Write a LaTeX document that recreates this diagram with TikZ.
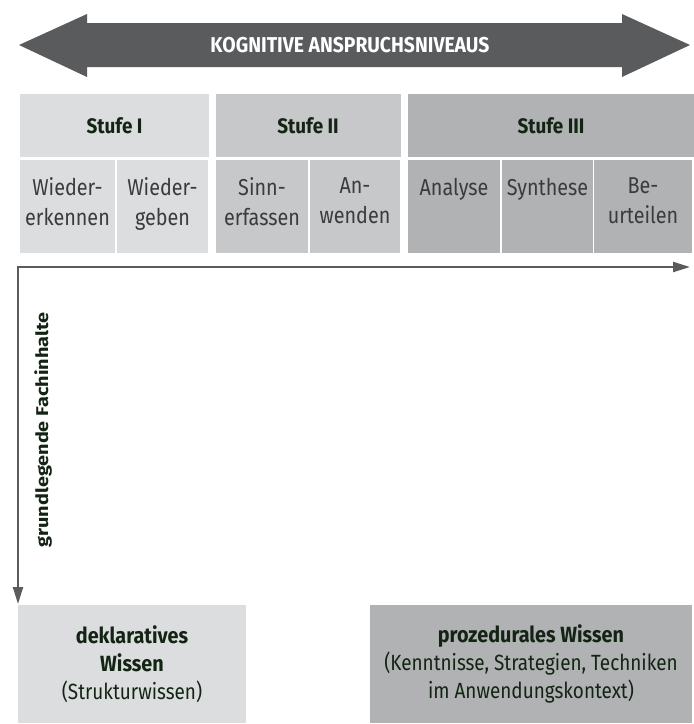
\documentclass[tikz,border=0pt]{standalone}
\usepackage{fontspec}
\setmainfont[FakeStretch=0.86,BoldFeatures={FakeStretch=0.9}]{Fira Sans}
\newfontfamily\axisfont[FakeStretch=1.17]{Fira Sans}
\usetikzlibrary{positioning,arrows.meta}

\definecolor{axisgray}{HTML}{5A5B5D}
\definecolor{lvlone}{HTML}{DCDDDF}
\definecolor{lvltwo}{HTML}{C7C8CA}
\definecolor{lvlthree}{HTML}{B0B2B4}
\definecolor{headtext}{HTML}{142414}
\definecolor{celltext}{HTML}{3B3B3B}

\tikzset{
  stufe/.style={inner sep=0pt, minimum height=63pt, font=\fontsize{21}{29}\selectfont\bfseries, text=headtext},
  subcell/.style={inner sep=0pt, minimum height=93pt},
  subtext/.style={inner sep=0pt, anchor=north, align=center, font=\fontsize{23}{30}\selectfont, text=celltext},
  wissen/.style={inner sep=0pt, minimum height=118pt, align=center, font=\fontsize{22}{28}\selectfont, text=headtext},
  axis/.style={draw=axisgray, line width=2.2pt, line join=miter},
}

\begin{document}
\begin{tikzpicture}[x=1pt, y=-1pt]
\useasboundingbox (0,0) rectangle (694,724);

% big double arrow
\fill[axisgray] (19,45) -- (87,14) -- (87,23) -- (622,23) -- (622,14) -- (690,45)
  -- (622,77) -- (622,67) -- (87,67) -- (87,77) -- cycle;
\node[text=white, font=\fontsize{21.5}{28}\selectfont\bfseries] (titel) at (350,45) {KOGNITIVE ANSPRUCHSNIVEAUS};

% Stufen
\node[stufe, fill=lvlone, minimum width=189pt] (s1) at (114.5,125.5) {Stufe I};
\node[stufe, fill=lvltwo, minimum width=185pt] (s2) at (308,125.5) {Stufe II};
\node[stufe, fill=lvlthree, minimum width=286pt] (s3) at (551,125.5) {Stufe III};

\foreach \nm/\cx/\w/\col/\txt in {we/67.5/95/lvlone/{Wieder-\\erkennen},
  wg/162.5/91/lvlone/{Wieder-\\geben}, se/262/92/lvltwo/{Sinn-\\erfassen},
  an/355/90/lvltwo/{An-\\wenden}, ay/454/92/lvlthree/{Analyse},
  sy/547.5/91/lvlthree/{Synthese}, bu/643/98/lvlthree/{Be-\\urteilen}}
{
  \node[subcell, fill=\col, minimum width=\w pt] (\nm) at (\cx,206.5) {};
  \node[subtext, yshift=-18pt] (\nm-t) at (\nm.north) {\txt};
}

% axes
\coordinate (ecke) at (18,267);
\coordinate (xende) at (690,267);
\coordinate (yende) at (18,604);
\draw[axis, {Triangle[length=17pt,width=10pt]}-{Triangle[length=17pt,width=10pt]}] (xende) -- (ecke) -- (yende);
\node[rotate=90, text=headtext, font=\axisfont\fontsize{17}{20}\selectfont\bfseries] (fach) at (43,430) {grundlegende Fachinhalte};

% Wissen
\node[wissen, fill=lvlone, minimum width=228pt] (dekl) at (132,664) {\textbf{deklaratives}\\\textbf{Wissen}\\(Strukturwissen)};
\node[wissen, fill=lvlthree, minimum width=322pt] (proz) at (531,664) {\textbf{prozedurales Wissen}\\(Kenntnisse, Strategien, Techniken\\im Anwendungskontext)};
\end{tikzpicture}
\end{document}
